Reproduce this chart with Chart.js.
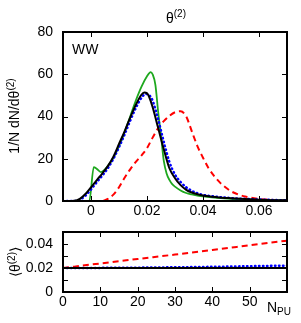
<!DOCTYPE html>
<html>
<head>
<meta charset="utf-8">
<script src="https://cdn.jsdelivr.net/npm/chart.js@4"></script>
<style>
  body { margin: 0; background: #fff; }
  #wrap { position: relative; width: 301px; height: 323px; }
  canvas { position: absolute; left: 0; }
  #dist { top: 0; }
  #mean { top: 225px; }
</style>
</head>
<body>
<div id="wrap">
  <canvas id="dist" width="301" height="225"></canvas>
  <canvas id="mean" width="301" height="98"></canvas>
</div>
<script>
// upper panel: 1/N dN/dtheta, one x/y pair per curve
const thetaBlack = [-0.01, -0.008, -0.006, -0.004, -0.002, 0, 0.002, 0.004, 0.006, 0.008, 0.01, 0.012, 0.014, 0.016, 0.018, 0.019, 0.02, 0.021, 0.022, 0.024, 0.026, 0.028, 0.03, 0.032, 0.034, 0.036, 0.038, 0.04, 0.045, 0.05, 0.055, 0.06, 0.065, 0.07];
const valBlack   = [0, 0, 0.1, 1, 3.3, 6.5, 9.8, 13, 16.5, 21, 27, 33, 39.5, 45.5, 50.3, 51.4, 51, 48.5, 44.5, 34.5, 24.5, 15.5, 10.8, 7.5, 5.3, 4, 3.2, 2.6, 1.8, 1.3, 0.9, 0.6, 0.4, 0.3];

const thetaBlue = [-0.01, -0.006, -0.004, -0.002, 0, 0.002, 0.004, 0.006, 0.008, 0.01, 0.012, 0.014, 0.016, 0.018, 0.0195, 0.02, 0.021, 0.022, 0.024, 0.026, 0.028, 0.03, 0.032, 0.034, 0.036, 0.038, 0.04, 0.045, 0.05, 0.055, 0.06, 0.065, 0.07];
const valBlue   = [0, 0, 0.6, 2.5, 5.5, 8.8, 12, 15.5, 20, 25.5, 31.5, 38, 44, 48.8, 50.6, 50.6, 49.8, 47.5, 38.5, 28, 18.5, 12.5, 9, 6.5, 4.8, 3.7, 2.9, 2, 1.4, 1, 0.7, 0.5, 0.3];

const thetaGreen = [-0.01, -0.0006, 0.001, 0.002, 0.0035, 0.005, 0.006, 0.008, 0.01, 0.012, 0.014, 0.016, 0.018, 0.02, 0.0213, 0.022, 0.023, 0.024, 0.025, 0.026, 0.027, 0.028, 0.029, 0.03, 0.032, 0.034, 0.036, 0.038, 0.04, 0.045, 0.05, 0.055, 0.06, 0.065, 0.07];
const valGreen   = [0, 0, 16, 15.3, 13.7, 15, 16.5, 20.5, 26, 32.5, 40, 47.5, 54, 59, 61, 60, 55, 42, 31, 19, 13, 10, 8, 6.8, 5, 3.8, 3.1, 2.6, 2.2, 1.5, 1, 0.7, 0.5, 0.3, 0.2];

const thetaRed = [-0.01, 0.004, 0.006, 0.008, 0.01, 0.012, 0.014, 0.016, 0.018, 0.02, 0.022, 0.024, 0.026, 0.028, 0.03, 0.032, 0.034, 0.036, 0.038, 0.04, 0.042, 0.044, 0.046, 0.048, 0.05, 0.052, 0.055, 0.06, 0.065, 0.07];
const valRed   = [0, 0, 1, 3, 6.5, 11, 15, 18.5, 21.5, 25, 30, 34.5, 37.8, 40.3, 42, 42.5, 40, 33, 26, 20.5, 15.5, 11.8, 8.8, 6.5, 4.6, 3.4, 2.1, 1, 0.5, 0.2];

const xTicksTop = [0, 0.02, 0.04, 0.06];
const xLabelsTop = ['0', '0.02', '0.04', '0.06'];
const yTicksTop = [0, 20, 40, 60, 80];
const yLabelsTop = ['0', '20', '40', '60', '80'];

// lower panel: mean theta vs number of pile-up
const npu = [0, 10, 20, 30, 40, 50, 60];
const meanBlack = [0.02, 0.02, 0.02, 0.02, 0.02, 0.02, 0.02];
const meanGreen = [0.0199, 0.0199, 0.0199, 0.0199, 0.0199, 0.0199, 0.0199];
const meanBlue  = [0.02, 0.0201, 0.0203, 0.0206, 0.021, 0.0215, 0.022];
const meanRed   = [0.02, 0.0238, 0.0275, 0.0312, 0.035, 0.0389, 0.0428];

const xTicksBottom = [0, 10, 20, 30, 40, 50];
const xLabelsBottom = ['0', '10', '20', '30', '40', '50'];
const yTicksBottom = [0, 0.01, 0.02, 0.03, 0.04];
const yLabelsBottom = ['0', '', '0.02', '', '0.04'];

const FONT = '"Liberation Sans", Arial, sans-serif';
Chart.defaults.font.family = FONT;
Chart.defaults.font.size = 14;
Chart.defaults.color = '#000';

const pts = (xs, ys) => xs.map((x, i) => ({ x: x, y: ys[i] }));

// box round the plot + inward tick marks on all four sides
const frame = {
  id: 'frame',
  afterDatasetsDraw(chart) {
    const { ctx, chartArea: a, scales } = chart;
    ctx.save();
    ctx.strokeStyle = '#000';
    ctx.lineWidth = 1;
    ctx.beginPath();
    scales.x.ticks.forEach(t => {
      const px = Math.round(scales.x.getPixelForValue(t.value)) + 0.5;
      ctx.moveTo(px, a.bottom); ctx.lineTo(px, a.bottom - 5);
      ctx.moveTo(px, a.top); ctx.lineTo(px, a.top + 5);
    });
    scales.y.ticks.forEach(t => {
      const py = Math.round(scales.y.getPixelForValue(t.value)) + 0.5;
      ctx.moveTo(a.left, py); ctx.lineTo(a.left + 5, py);
      ctx.moveTo(a.right, py); ctx.lineTo(a.right - 5, py);
    });
    ctx.stroke();
    ctx.lineWidth = 2;
    ctx.strokeRect(a.left, a.top, a.right - a.left, a.bottom - a.top);
    ctx.restore();
  }
};

// labels with super/subscripts
const richText = {
  id: 'richText',
  afterDraw(chart, args, opts) {
    const ctx = chart.ctx;
    (opts.items || []).forEach(it => {
      ctx.save();
      ctx.fillStyle = '#000';
      ctx.textBaseline = 'alphabetic';
      ctx.textAlign = 'left';
      let w = 0;
      it.parts.forEach(p => { ctx.font = p.size + 'px ' + FONT; w += ctx.measureText(p.t).width; });
      ctx.translate(it.x, it.y);
      if (it.rot) ctx.rotate(-Math.PI / 2);
      let cx = it.center ? -w / 2 : 0;
      it.parts.forEach(p => {
        ctx.font = p.size + 'px ' + FONT;
        ctx.fillText(p.t, cx, p.dy || 0);
        cx += ctx.measureText(p.t).width;
      });
      ctx.restore();
    });
  }
};

function fixTicks(values) {
  return scale => { scale.ticks = values.map(v => ({ value: v })); };
}

// fixed axis box sizes, no extra padding for the end labels
function fitX(h) {
  return s => { s.height = h; s.paddingLeft = 0; s.paddingRight = 0; };
}
function fitY(w) {
  return s => { s.width = w; s.paddingTop = 0; s.paddingBottom = 0; };
}

function line(data, color, width, dash, order) {
  return {
    data: data,
    borderColor: color,
    borderWidth: width,
    borderDash: dash,
    borderCapStyle: dash.length && dash[0] < 2 ? 'round' : 'butt',
    pointRadius: 0,
    fill: false,
    cubicInterpolationMode: 'monotone',
    order: order
  };
}

new Chart(document.getElementById('dist'), {
  type: 'line',
  data: {
    datasets: [
      line(pts(thetaBlack, valBlack), '#000000', 2, [], 0),
      line(pts(thetaBlue, valBlue), '#0000ff', 2.5, [0.5, 3.5], 1),
      line(pts(thetaGreen, valGreen), '#1ea81e', 1.8, [], 2),
      line(pts(thetaRed, valRed), '#ff0000', 2, [6, 4], 3)
    ]
  },
  options: {
    responsive: false,
    animation: false,
    devicePixelRatio: 1,
    layout: { padding: { top: 32, right: 14, left: 0, bottom: 0 } },
    plugins: {
      legend: { display: false },
      tooltip: { enabled: false },
      richText: {
        items: [
          { x: 176, y: 22.5, center: true, parts: [{ t: 'θ', size: 14 }, { t: '(2)', size: 10, dy: -5.5 }] },
          { x: 72, y: 54, parts: [{ t: 'WW', size: 14 }] },
          { x: 19, y: 116, rot: true, center: true, parts: [{ t: '1/N dN/dθ', size: 14 }, { t: '(2)', size: 10, dy: -5.5 }] }
        ]
      }
    },
    scales: {
      x: {
        type: 'linear', min: -0.01, max: 0.07,
        afterBuildTicks: fixTicks(xTicksTop),
        afterFit: fitX(24),
        grid: { display: false, drawTicks: false },
        border: { display: false },
        ticks: { padding: 2, autoSkip: false, maxRotation: 0, callback: (v, i) => xLabelsTop[i] }
      },
      y: {
        type: 'linear', min: 0, max: 80,
        afterBuildTicks: fixTicks(yTicksTop),
        afterFit: fitY(63),
        grid: { display: false, drawTicks: false },
        border: { display: false },
        ticks: { padding: 10, autoSkip: false, callback: (v, i) => yLabelsTop[i] }
      }
    }
  },
  plugins: [frame, richText]
});

new Chart(document.getElementById('mean'), {
  type: 'line',
  data: {
    datasets: [
      line(pts(npu, meanBlack), '#000000', 2, [], 0),
      line(pts(npu, meanBlue), '#0000ff', 2.5, [0.5, 3.5], 1),
      line(pts(npu, meanGreen), '#1ea81e', 1.8, [], 2),
      line(pts(npu, meanRed), '#ff0000', 2, [6, 4], 3)
    ]
  },
  options: {
    responsive: false,
    animation: false,
    devicePixelRatio: 1,
    layout: { padding: { top: 7, right: 14, left: 0, bottom: 0 } },
    plugins: {
      legend: { display: false },
      tooltip: { enabled: false },
      richText: {
        items: [
          { x: 20, y: 37, rot: true, center: true, parts: [{ t: '⟨θ', size: 14 }, { t: '(2)', size: 10, dy: -5.5 }, { t: '⟩', size: 14 }] },
          { x: 267, y: 86.5, parts: [{ t: 'N', size: 14 }, { t: 'PU', size: 10, dy: 3.5 }] }
        ]
      }
    },
    scales: {
      x: {
        type: 'linear', min: 0, max: 60,
        afterBuildTicks: fixTicks(xTicksBottom),
        afterFit: fitX(31),
        grid: { display: false, drawTicks: false },
        border: { display: false },
        ticks: { padding: 2, autoSkip: false, maxRotation: 0, callback: (v, i) => xLabelsBottom[i] }
      },
      y: {
        type: 'linear', min: 0, max: 0.05,
        afterBuildTicks: fixTicks(yTicksBottom),
        afterFit: fitY(63),
        grid: { display: false, drawTicks: false },
        border: { display: false },
        ticks: { padding: 10, autoSkip: false, callback: (v, i) => yLabelsBottom[i] }
      }
    }
  },
  plugins: [frame, richText]
});
</script>
</body>
</html>
